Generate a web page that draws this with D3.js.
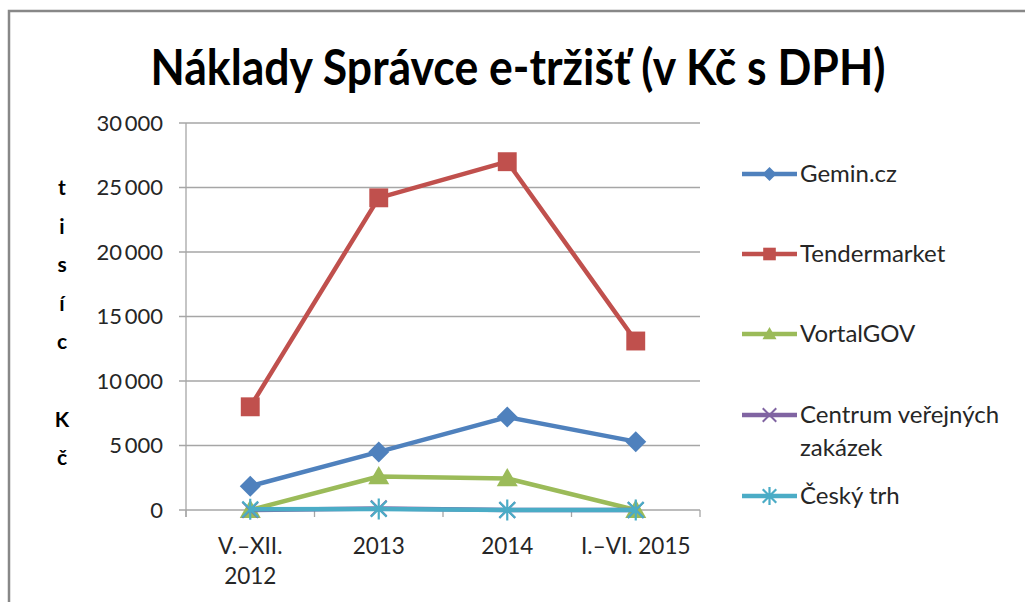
<!DOCTYPE html>
<html>
<head>
<meta charset="utf-8">
<script src="https://cdn.jsdelivr.net/npm/d3@7"></script>
<style>
  html, body { margin: 0; padding: 0; background: #fff; }
  svg { display: block; font-family: Lato, "Open Sans", sans-serif; }
</style>
</head>
<body>
<div id="chart"></div>
<script>
const categories = [["V.–XII.", "2012"], ["2013"], ["2014"], ["I.–VI. 2015"]];
const seriesNames = ["Gemin.cz", "Tendermarket", "VortalGOV", "Centrum veřejných zakázek", "Český trh"];
const gemin = [1850, 4500, 7200, 5300];
const tendermarket = [8000, 24200, 27000, 13100];
const vortalGov = [0, 2600, 2450, 0];
const centrum = [0, 120, 0, 0];
const ceskyTrh = [50, 80, 0, 0];
const yTicks = [0, 5000, 10000, 15000, 20000, 25000, 30000];
const yLabelChars = ["t", "i", "s", "í", "c", "", "K", "č"];

const colors = ["#4F81BD", "#C0504D", "#9BBB59", "#8064A2", "#4BACC6"];
const symbols = ["diamond", "square", "triangle", "cross", "star"];
const series = [gemin, tendermarket, vortalGov, centrum, ceskyTrh].map((values, i) => ({
  name: seriesNames[i], values, color: colors[i], symbol: symbols[i]
}));

const W = 1025, H = 602;
const svg = d3.select("#chart").append("svg").attr("width", W).attr("height", H);

// chart frame
svg.append("path")
  .attr("d", `M9,${H + 5}V11H${W + 5}`)
  .attr("fill", "none").attr("stroke", "#888").attr("stroke-width", 2.5);

// title
svg.append("text")
  .attr("x", 518).attr("y", 85)
  .attr("text-anchor", "middle")
  .attr("font-weight", "bold").attr("font-size", 50).attr("fill", "#000")
  .attr("textLength", 735).attr("lengthAdjust", "spacingAndGlyphs")
  .text("Náklady Správce e-tržišť (v Kč s DPH)");

const x = d3.scaleBand().domain(d3.range(categories.length)).range([186, 700]);
const y = d3.scaleLinear().domain([0, 30000]).range([510, 123]);
const cx = i => x(i) + x.bandwidth() / 2;

const fmt = v => d3.format(",")(v).replace(/,/g, "\u2009");

// gridlines + y labels
const g = svg.append("g");
g.selectAll(".grid").data(yTicks).join("line")
  .attr("x1", 179).attr("x2", 700)
  .attr("y1", d => y(d)).attr("y2", d => y(d))
  .attr("stroke", "#a6a6a6").attr("stroke-width", 1.3);
g.selectAll(".ylab").data(yTicks).join("text")
  .attr("x", 163).attr("y", d => y(d)).attr("dy", "0.35em")
  .attr("text-anchor", "end").attr("font-size", 22).attr("fill", "#262626")
  .text(fmt);

// axis lines
g.append("line").attr("x1", 186).attr("x2", 186).attr("y1", 123).attr("y2", 517)
  .attr("stroke", "#a6a6a6").attr("stroke-width", 1.3);
g.selectAll(".xtick").data(d3.range(categories.length + 1)).join("line")
  .attr("x1", d => 186 + d * x.bandwidth()).attr("x2", d => 186 + d * x.bandwidth())
  .attr("y1", 510).attr("y2", 517)
  .attr("stroke", "#a6a6a6").attr("stroke-width", 1.3);

// x labels
g.selectAll(".xlab").data(categories).join("text")
  .attr("x", (d, i) => cx(i)).attr("y", 554)
  .attr("text-anchor", "middle").attr("font-size", 22.5).attr("fill", "#262626")
  .each(function (d) {
    d3.select(this).selectAll("tspan").data(d).join("tspan")
      .attr("x", d3.select(this).attr("x"))
      .attr("dy", (t, j) => j === 0 ? 0 : 30)
      .text(t => t);
  });

// y axis title, stacked letters
svg.selectAll(".ytitle").data(yLabelChars).join("text")
  .attr("x", 62).attr("y", (d, i) => 195 + i * 38.6)
  .attr("text-anchor", "middle").attr("font-weight", "bold").attr("font-size", 21)
  .attr("fill", "#000")
  .text(d => d);

function marker(sel, s, size) {
  const h = size / 2;
  if (s.symbol === "diamond") {
    sel.append("path").attr("d", `M0,${-h}L${h},0L0,${h}L${-h},0Z`).attr("fill", s.color);
  } else if (s.symbol === "square") {
    sel.append("rect").attr("x", -h * 0.9).attr("y", -h * 0.9)
      .attr("width", h * 1.8).attr("height", h * 1.8).attr("fill", s.color);
  } else if (s.symbol === "triangle") {
    sel.append("path").attr("d", `M0,${-h}L${h},${h * 0.75}L${-h},${h * 0.75}Z`).attr("fill", s.color);
  } else if (s.symbol === "cross") {
    sel.append("path").attr("d", `M${-h * 0.75},${-h * 0.75}L${h * 0.75},${h * 0.75}M${-h * 0.75},${h * 0.75}L${h * 0.75},${-h * 0.75}`)
      .attr("stroke", s.color).attr("stroke-width", 2);
  } else {
    sel.append("path").attr("d", `M${-h * 0.75},${-h * 0.75}L${h * 0.75},${h * 0.75}M${-h * 0.75},${h * 0.75}L${h * 0.75},${-h * 0.75}M0,${-h}V${h}`)
      .attr("stroke", s.color).attr("stroke-width", 2.2);
  }
}

const line = d3.line().x((d, i) => cx(i)).y(d => y(d));
series.forEach(s => {
  const sg = svg.append("g");
  sg.append("path").datum(s.values).attr("d", line)
    .attr("fill", "none").attr("stroke", s.color).attr("stroke-width", 4.5)
    .attr("stroke-linejoin", "round");
  s.values.forEach((v, i) => {
    const m = sg.append("g").attr("transform", `translate(${cx(i)},${y(v)})`);
    marker(m, s, 21);
  });
});

// legend
const legendY = [174, 254, 334, 415, 496];
series.forEach((s, i) => {
  const lg = svg.append("g").attr("transform", `translate(742,${legendY[i]})`);
  lg.append("line").attr("x1", 0).attr("x2", 55)
    .attr("stroke", s.color).attr("stroke-width", 4.5);
  const m = lg.append("g").attr("transform", "translate(27.5,0)");
  marker(m, s, s.symbol === "cross" || s.symbol === "star" ? 18 : 14);
  const words = s.name === "Centrum veřejných zakázek" ? ["Centrum veřejných", "zakázek"] : [s.name];
  const t = lg.append("text").attr("x", 58).attr("y", 0)
    .attr("font-size", 24).attr("fill", "#262626");
  words.forEach((w, j) => t.append("tspan").attr("x", 58).attr("dy", j === 0 ? "0.35em" : 33).text(w));
});
</script>
</body>
</html>
